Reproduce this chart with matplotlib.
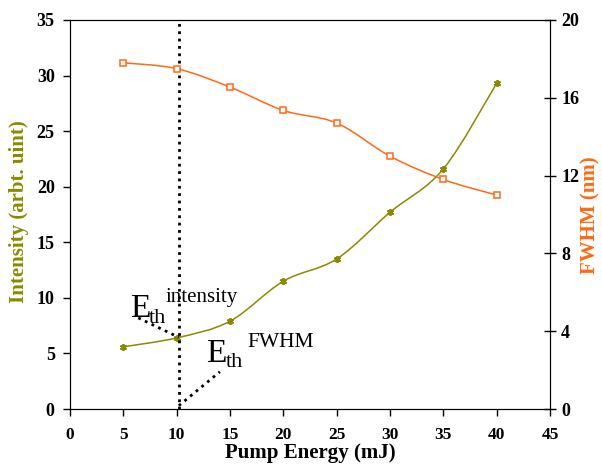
"""Intensity and FWHM versus pump energy, dual y-axis."""

import matplotlib

matplotlib.use("Agg")
import matplotlib.pyplot as plt
import numpy as np
from matplotlib.patches import PathPatch
from matplotlib.path import Path

pump_energy = [5, 10, 15, 20, 25, 30, 35, 40]
intensity = [5.6, 6.4, 7.9, 11.5, 13.5, 17.7, 21.6, 29.3]
fwhm = [17.8, 17.5, 16.55, 15.35, 14.7, 13.0, 11.8, 11.0]

threshold_x = 10.2
x_ticks = [0, 5, 10, 15, 20, 25, 30, 35, 40, 45]
left_ticks = [0, 5, 10, 15, 20, 25, 30, 35]
right_ticks = [0, 4, 8, 12, 16, 20]

OLIVE = "#8a8a00"
ORANGE = "#ff6a13"

plt.rcParams["font.family"] = ["Liberation Serif", "DejaVu Serif"]


def smooth_path(xs, ys):
    # Excel-style smoothed line: cubic Bezier through each point
    pts = np.column_stack([xs, ys]).astype(float)
    n = len(pts)
    verts = [pts[0]]
    codes = [Path.MOVETO]
    for i in range(n - 1):
        p0 = pts[i - 1] if i > 0 else pts[i]
        p1, p2 = pts[i], pts[i + 1]
        p3 = pts[i + 2] if i + 2 < n else pts[i + 1]
        verts += [p1 + (p2 - p0) / 6, p2 - (p3 - p1) / 6, p2]
        codes += [Path.CURVE4] * 3
    return Path(verts, codes)


fig = plt.figure(figsize=(6.02, 4.65), dpi=100)
ax = fig.add_axes([0.1163, 0.1204, 0.7973, 0.8366])
ax2 = ax.twinx()

ax.add_patch(PathPatch(smooth_path(pump_energy, intensity), fill=False, edgecolor=OLIVE, lw=1.1))
ax.plot(pump_energy, intensity, ls="none", marker=(6, 2, 0), ms=5, mew=1.3, color=OLIVE)

ax2.add_patch(PathPatch(smooth_path(pump_energy, fwhm), fill=False, edgecolor=ORANGE, lw=1.1))
ax2.plot(pump_energy, fwhm, ls="none", marker="s", ms=4.5, mew=1.1, mfc="white", mec=ORANGE)

# threshold markers
ax.plot([threshold_x, threshold_x], [0, 35], ls=":", color="black", lw=2)
ax.plot([6.4, threshold_x], [8.2, 6.45], ls=":", color="black", lw=2)
ax.plot([threshold_x, 14.05], [0.3, 3.35], ls=":", color="black", lw=2)

ax.text(5.6, 8.3, "E", fontsize=24, ha="left", va="baseline")
ax.text(7.4, 7.75, "th", fontsize=16, ha="left", va="baseline")
ax.text(9.0, 9.6, "intensity", fontsize=15, ha="left", va="baseline")
ax.text(12.8, 4.26, "E", fontsize=24, ha="left", va="baseline")
ax.text(14.6, 3.8, "th", fontsize=16, ha="left", va="baseline")
ax.text(16.6, 5.58, "FWHM", fontsize=15.5, ha="left", va="baseline")

ax.set_xlim(0, 45)
ax.set_ylim(0, 35)
ax2.set_ylim(0, 20)
ax.set_xticks(x_ticks)
ax.set_yticks(left_ticks)
ax2.set_yticks(right_ticks)

ax.tick_params(axis="x", labelsize=12.5, width=1, length=5, pad=8)
ax.tick_params(axis="y", labelsize=13, width=1, length=5, pad=6)
ax2.tick_params(axis="y", labelsize=13, width=1, direction="inout", length=8, pad=4)
for a in (ax, ax2):
    for lab in a.get_xticklabels() + a.get_yticklabels():
        lab.set_fontweight("bold")

fig.text(0.515, 0.005, "Pump Energy (mJ)", fontsize=15, fontweight="bold", ha="center", va="bottom")
fig.text(0.031, 0.544, "Intensity (arbt. uint)", fontsize=15, fontweight="bold", color=OLIVE,
         rotation=90, ha="center", va="center")
fig.text(0.997, 0.538, "FWHM (nm)", fontsize=15, fontweight="bold", color=ORANGE,
         rotation=90, ha="right", va="center")

fig.savefig("out.png", dpi=100)
